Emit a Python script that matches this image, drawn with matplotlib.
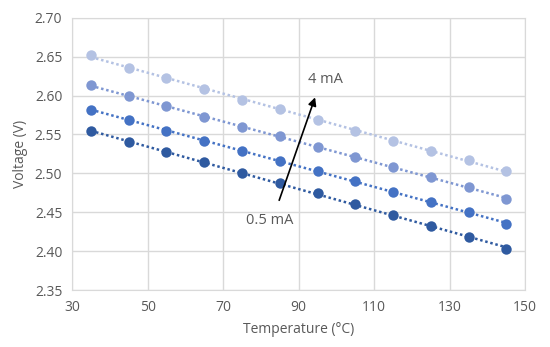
import matplotlib
matplotlib.use("Agg")
import matplotlib.pyplot as plt
import numpy as np

temps = [35, 45, 55, 65, 75, 85, 95, 105, 115, 125, 135, 145]

# voltage per bias current, lowest current first
v_05mA = [2.554, 2.540, 2.527, 2.514, 2.500, 2.488, 2.475, 2.461, 2.446, 2.432, 2.418, 2.403]
v_1mA = [2.582, 2.568, 2.555, 2.542, 2.529, 2.516, 2.503, 2.490, 2.476, 2.463, 2.450, 2.435]
v_2mA = [2.613, 2.599, 2.586, 2.573, 2.559, 2.548, 2.534, 2.521, 2.508, 2.495, 2.482, 2.467]
v_4mA = [2.652, 2.636, 2.622, 2.609, 2.594, 2.583, 2.568, 2.554, 2.542, 2.529, 2.517, 2.503]

series = [v_05mA, v_1mA, v_2mA, v_4mA]
colors = ["#2f5aa0", "#4472c4", "#7f97d2", "#b4c2e3"]

xticks = [30, 50, 70, 90, 110, 130, 150]
yticks = [2.35, 2.40, 2.45, 2.50, 2.55, 2.60, 2.65, 2.70]

plt.rcParams["font.family"] = ["Open Sans", "DejaVu Sans"]
TXT = "#595959"

fig = plt.figure(figsize=(5.5, 3.47), dpi=100)
ax = fig.add_axes([0.131, 0.164, 0.824, 0.785])

x = np.array(temps)
for vals, c in zip(series, colors):
    k, b = np.polyfit(x, vals, 1)
    ax.plot(x, k * x + b, color=c, linestyle=(0, (1, 1.1)), linewidth=1.8, zorder=2)
    ax.plot(x, vals, "o", color=c, markersize=7.5, zorder=3, markeredgewidth=0)

ax.set_xlim(30, 150)
ax.set_ylim(2.35, 2.70)
ax.set_xticks(xticks)
ax.set_yticks(yticks)
ax.set_yticklabels([f"{v:.2f}" for v in yticks])
ax.grid(True, color="#d9d9d9", linewidth=1)
ax.set_axisbelow(True)
for s in ax.spines.values():
    s.set_color("#d9d9d9")
ax.tick_params(length=0, labelsize=10, colors=TXT, pad=7)
ax.set_xlabel("Temperature (°C)", fontsize=10, color=TXT, labelpad=5)
ax.set_ylabel("Voltage (V)", fontsize=10, color=TXT, labelpad=5)

ax.annotate("", xy=(94.6, 2.601), xytext=(84.6, 2.462),
            arrowprops=dict(arrowstyle="-|>", color="black", lw=1.2, mutation_scale=12))
ax.text(92.5, 2.62, "4 mA", fontsize=10.5, color=TXT, ha="left", va="center")
ax.text(82.2, 2.44, "0.5 mA", fontsize=10.5, color=TXT, ha="center", va="center")

fig.savefig("out.png", dpi=100)
